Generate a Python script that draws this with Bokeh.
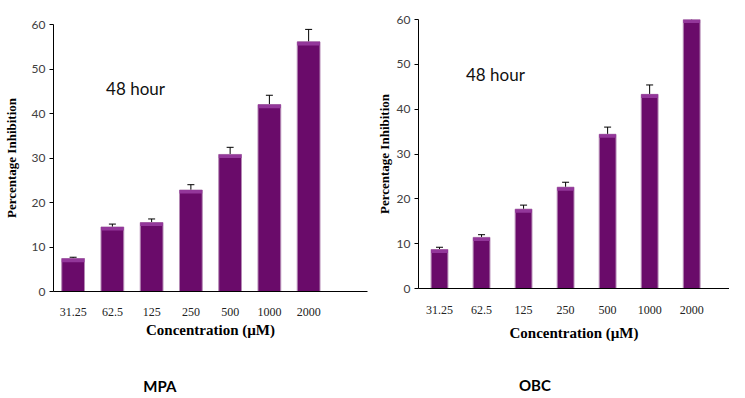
from bokeh.plotting import figure
from bokeh.layouts import row, column
from bokeh.models import (Range1d, FixedTicker, Whisker, TeeHead, ColumnDataSource, Label,
                          LinearAxis)
from bokeh.embed import file_html
from bokeh.resources import INLINE

categories = ["31.25", "62.5", "125", "250", "500", "1000", "2000"]
mpa_values = [7.4, 14.5, 15.5, 22.8, 30.8, 42.0, 56.1]
mpa_errors = [0.3, 0.65, 0.8, 1.2, 1.6, 2.1, 2.8]
obc_values = [8.7, 11.4, 17.7, 22.6, 34.4, 43.3, 60.0]
obc_errors = [0.5, 0.6, 0.9, 1.1, 1.6, 2.1, 2.7]
y_ticks = [0, 10, 20, 30, 40, 50, 60]

BAR = "#6a0b6a"
HILITE = "#93379a"
EDGE = "#b58ab5"
SERIF = "Liberation Serif"
SANS = "Lato"
HEIGHT = 397


def make_panel(values, errors, name, width, border_left, border_right, border_top,
               border_bottom, x_end, bar_width, note_xy, name_x, name_standoff,
               ylabel_standoff, tick_standoff, xlabel_standoff):
    xs = [i + 0.5 for i in range(len(categories))]
    src = ColumnDataSource(dict(
        x=xs, top=values,
        upper=[v + e for v, e in zip(values, errors)],
        lower=[v - e for v, e in zip(values, errors)],
        band=[v - 0.8 for v in values],
    ))
    p = figure(width=width, height=HEIGHT, x_range=Range1d(0, x_end), y_range=Range1d(0, 60),
               output_backend="svg", toolbar_location=None,
               min_border_left=border_left, min_border_right=border_right,
               min_border_top=border_top, min_border_bottom=border_bottom)
    p.outline_line_color = None
    p.xgrid.visible = False
    p.ygrid.visible = False
    p.background_fill_color = "white"
    p.border_fill_color = "white"

    p.vbar(x="x", top="top", bottom=0, width=bar_width, source=src,
           fill_color=BAR, line_color=EDGE, line_width=1)
    p.vbar(x="x", top="top", bottom="band", width=bar_width, source=src,
           fill_color=HILITE, line_color=None)

    w = Whisker(base="x", upper="upper", lower="lower", source=src,
                line_color="black", line_width=1,
                upper_head=TeeHead(size=7, line_color="black", line_width=1),
                lower_head=TeeHead(size=7, line_color="black", line_width=1))
    p.add_layout(w)

    # x axis
    p.xaxis.ticker = FixedTicker(ticks=xs)
    p.xaxis.major_label_overrides = {x: c for x, c in zip(xs, categories)}
    p.xaxis.major_tick_line_color = None
    p.xaxis.minor_tick_line_color = None
    p.xaxis.axis_line_color = "black"
    p.xaxis.major_label_text_font = SERIF
    p.xaxis.major_label_text_font_size = "12px"
    p.xaxis.major_label_text_color = "#222222"
    p.xaxis.major_label_standoff = tick_standoff
    p.xaxis.axis_label = "Concentration (\u00b5M)"
    p.xaxis.axis_label_text_font = SERIF
    p.xaxis.axis_label_text_font_style = "bold"
    p.xaxis.axis_label_text_font_size = "15px"
    p.xaxis.axis_label_text_color = "black"
    p.xaxis.axis_label_standoff = xlabel_standoff

    # panel name, placed as a lone tick label on a bare axis below
    name_axis = LinearAxis(ticker=FixedTicker(ticks=[name_x]),
                           major_label_overrides={name_x: name},
                           axis_line_color=None, major_tick_line_color=None,
                           minor_tick_line_color=None,
                           major_label_text_font=SANS, major_label_text_font_style="bold",
                           major_label_text_font_size="15px",
                           major_label_text_color="black",
                           major_label_standoff=name_standoff)
    p.add_layout(name_axis, "below")

    # y axis
    p.yaxis.ticker = FixedTicker(ticks=y_ticks)
    p.yaxis.minor_tick_line_color = None
    p.yaxis.major_tick_in = 0
    p.yaxis.major_tick_out = 4
    p.yaxis.axis_line_color = "black"
    p.yaxis.major_tick_line_color = "black"
    p.yaxis.major_label_text_font = SANS
    p.yaxis.major_label_text_font_size = "12px"
    p.yaxis.major_label_text_color = "#404040"
    p.yaxis.major_label_standoff = 4
    p.yaxis.axis_label = "Percentage Inhibition"
    p.yaxis.axis_label_text_font = SERIF
    p.yaxis.axis_label_text_font_style = "bold"
    p.yaxis.axis_label_text_font_size = "13px"
    p.yaxis.axis_label_text_color = "black"
    p.yaxis.axis_label_standoff = ylabel_standoff

    p.add_layout(Label(x=note_xy[0], y=note_xy[1], text="48 hour", text_font=SANS,
                       text_font_size="17px", text_color="#111111",
                       text_align="center", text_baseline="middle"))
    return p


p1 = make_panel(mpa_values, mpa_errors, "MPA", width=368, border_left=51, border_right=1,
                border_top=24, border_bottom=106, x_end=8.0, bar_width=0.58,
                note_xy=(2.09, 45.7), name_x=2.71, name_standoff=30,
                ylabel_standoff=10, tick_standoff=10, xlabel_standoff=3)
p2 = make_panel(obc_values, obc_errors, "OBC", width=361, border_left=50, border_right=0,
                border_top=19, border_bottom=109, x_end=7.4, bar_width=0.4,
                note_xy=(1.83, 47.8), name_x=2.77, name_standoff=26,
                ylabel_standoff=2, tick_standoff=11, xlabel_standoff=8)

layout = row(column(p1), column(p2))
open("out.html", "w").write(file_html(layout, INLINE))
